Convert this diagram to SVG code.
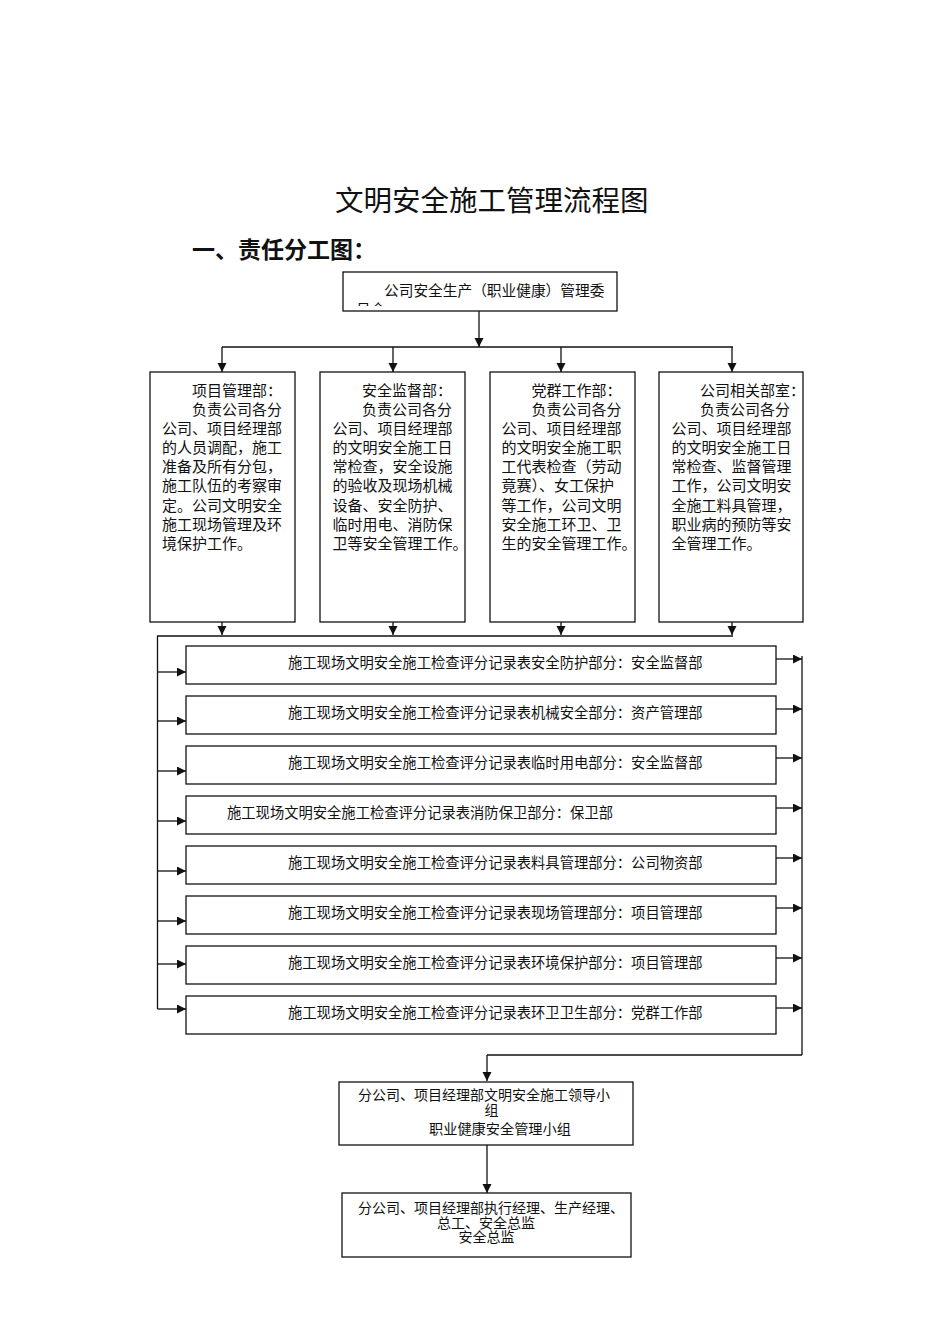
<svg xmlns="http://www.w3.org/2000/svg" width="950" height="1344" viewBox="0 0 950 1344">
<style>
.bx{fill:#fff;stroke:#111;stroke-width:1.3}
.ln{fill:none;stroke:#111;stroke-width:1.3}
.ar{fill:none;stroke:#111;stroke-width:1.3;marker-end:url(#ah)}
.t{font-family:"Noto Sans CJK SC","Liberation Sans",sans-serif;fill:#111}
.c{font-size:15px}
.r{font-size:14.3px}
.s{font-family:"Liberation Serif","Noto Sans CJK SC",serif;font-size:14px;fill:#111}
</style>
<defs>
<marker id="ah" markerUnits="userSpaceOnUse" markerWidth="10" markerHeight="10" refX="9" refY="4.5" orient="auto">
<path d="M0,0 L9,4.5 L0,9 z" fill="#111"/>
</marker>
<clipPath id="topclip"><rect x="343" y="272" width="275" height="34"/></clipPath>
</defs>
<rect width="950" height="1344" fill="#fff"/>
<text class="t" x="335" y="211" font-size="28.5">文明安全施工管理流程图</text>
<text class="t" x="192" y="258" font-size="23" font-weight="bold">一、责任分工图：</text>

<g id="connectors">
<line class="ar" x1="479" y1="311" x2="479" y2="347"/>
<line class="ln" x1="222" y1="347" x2="733" y2="347"/>
<line class="ar" x1="222" y1="347" x2="222" y2="372"/>
<line class="ar" x1="393" y1="347" x2="393" y2="372"/>
<line class="ar" x1="561" y1="347" x2="561" y2="372"/>
<line class="ar" x1="732" y1="347" x2="732" y2="372"/>
<line class="ar" x1="222" y1="622" x2="222" y2="635"/>
<line class="ar" x1="393" y1="622" x2="393" y2="635"/>
<line class="ar" x1="561" y1="622" x2="561" y2="635"/>
<line class="ar" x1="732" y1="622" x2="732" y2="635"/>
<line class="ln" x1="157" y1="636" x2="733" y2="636"/>
<line class="ln" x1="157.5" y1="636" x2="157.5" y2="1009"/>
<line class="ar" x1="157.5" y1="672" x2="186" y2="672"/>
<line class="ar" x1="157.5" y1="721" x2="186" y2="721"/>
<line class="ar" x1="157.5" y1="771" x2="186" y2="771"/>
<line class="ar" x1="157.5" y1="821" x2="186" y2="821"/>
<line class="ar" x1="157.5" y1="871" x2="186" y2="871"/>
<line class="ar" x1="157.5" y1="921" x2="186" y2="921"/>
<line class="ar" x1="157.5" y1="964" x2="186" y2="964"/>
<line class="ar" x1="157.5" y1="1009" x2="186" y2="1009"/>
<line class="ar" x1="776" y1="659" x2="802" y2="659"/>
<line class="ar" x1="776" y1="709" x2="802" y2="709"/>
<line class="ar" x1="776" y1="758" x2="802" y2="758"/>
<line class="ar" x1="776" y1="808" x2="802" y2="808"/>
<line class="ar" x1="776" y1="858" x2="802" y2="858"/>
<line class="ar" x1="776" y1="908" x2="802" y2="908"/>
<line class="ar" x1="776" y1="958" x2="802" y2="958"/>
<line class="ar" x1="776" y1="1008" x2="802" y2="1008"/>
<line class="ln" x1="802" y1="656" x2="802" y2="1055"/>
<line class="ln" x1="802" y1="1055" x2="487" y2="1055"/>
<line class="ar" x1="487" y1="1055" x2="487" y2="1081"/>
<line class="ar" x1="487" y1="1145" x2="487" y2="1193"/>
</g>

<g id="top">
<rect class="bx" x="343" y="272" width="274" height="39"/>
<g clip-path="url(#topclip)">
<text class="t" x="384" y="296" font-size="14.7">公司安全生产（职业健康）管理委</text>
<text class="t" x="356" y="315" font-size="14.7">员会</text>
</g>
</g>

<g id="col1">
<rect class="bx" x="150" y="372" width="145" height="250"/>
<text class="t c">
<tspan x="192" y="395.5">项目管理部：</tspan>
<tspan x="192" y="414.7">负责公司各分</tspan>
<tspan x="162" y="433.8">公司、项目经理部</tspan>
<tspan x="162" y="453">的人员调配，施工</tspan>
<tspan x="162" y="472.2">准备及所有分包，</tspan>
<tspan x="162" y="491.3">施工队伍的考察审</tspan>
<tspan x="162" y="510.5">定。公司文明安全</tspan>
<tspan x="162" y="529.7">施工现场管理及环</tspan>
<tspan x="162" y="548.8">境保护工作。</tspan>
</text>
</g>

<g id="col2">
<rect class="bx" x="320" y="372" width="145" height="250"/>
<text class="t c">
<tspan x="362" y="395.5">安全监督部：</tspan>
<tspan x="362" y="414.7">负责公司各分</tspan>
<tspan x="332.5" y="433.8">公司、项目经理部</tspan>
<tspan x="332.5" y="453">的文明安全施工日</tspan>
<tspan x="332.5" y="472.2">常检查，安全设施</tspan>
<tspan x="332.5" y="491.3">的验收及现场机械</tspan>
<tspan x="332.5" y="510.5">设备、安全防护、</tspan>
<tspan x="332.5" y="529.7">临时用电、消防保</tspan>
<tspan x="332.5" y="548.8">卫等安全管理工作。</tspan>
</text>
</g>

<g id="col3">
<rect class="bx" x="490" y="372" width="145" height="250"/>
<text class="t c">
<tspan x="531.5" y="395.5">党群工作部：</tspan>
<tspan x="531.5" y="414.7">负责公司各分</tspan>
<tspan x="501.5" y="433.8">公司、项目经理部</tspan>
<tspan x="501.5" y="453">的文明安全施工职</tspan>
<tspan x="501.5" y="472.2">工代表检查（劳动</tspan>
<tspan x="501.5" y="491.3">竟赛）、女工保护</tspan>
<tspan x="501.5" y="510.5">等工作，公司文明</tspan>
<tspan x="501.5" y="529.7">安全施工环卫、卫</tspan>
<tspan x="501.5" y="548.8">生的安全管理工作。</tspan>
</text>
</g>

<g id="col4">
<rect class="bx" x="659" y="372" width="144" height="250"/>
<text class="t c">
<tspan x="700" y="395.5">公司相关部室：</tspan>
<tspan x="700" y="414.7">负责公司各分</tspan>
<tspan x="671.5" y="433.8">公司、项目经理部</tspan>
<tspan x="671.5" y="453">的文明安全施工日</tspan>
<tspan x="671.5" y="472.2">常检查、监督管理</tspan>
<tspan x="671.5" y="491.3">工作，公司文明安</tspan>
<tspan x="671.5" y="510.5">全施工料具管理，</tspan>
<tspan x="671.5" y="529.7">职业病的预防等安</tspan>
<tspan x="671.5" y="548.8">全管理工作。</tspan>
</text>
</g>

<g id="row1"><rect class="bx" x="186" y="646" width="590" height="38"/><text class="t r" x="288" y="668">施工现场文明安全施工检查评分记录表安全防护部分：安全监督部</text></g>
<g id="row2"><rect class="bx" x="186" y="696" width="590" height="38"/><text class="t r" x="288" y="718">施工现场文明安全施工检查评分记录表机械安全部分：资产管理部</text></g>
<g id="row3"><rect class="bx" x="186" y="746" width="590" height="38"/><text class="t r" x="288" y="768">施工现场文明安全施工检查评分记录表临时用电部分：安全监督部</text></g>
<g id="row4"><rect class="bx" x="186" y="796" width="590" height="38"/><text class="t r" x="227" y="818">施工现场文明安全施工检查评分记录表消防保卫部分：保卫部</text></g>
<g id="row5"><rect class="bx" x="186" y="846" width="590" height="38"/><text class="t r" x="288" y="868">施工现场文明安全施工检查评分记录表料具管理部分：公司物资部</text></g>
<g id="row6"><rect class="bx" x="186" y="896" width="590" height="38"/><text class="t r" x="288" y="918">施工现场文明安全施工检查评分记录表现场管理部分：项目管理部</text></g>
<g id="row7"><rect class="bx" x="186" y="946" width="590" height="38"/><text class="t r" x="288" y="968">施工现场文明安全施工检查评分记录表环境保护部分：项目管理部</text></g>
<g id="row8"><rect class="bx" x="186" y="996" width="590" height="38"/><text class="t r" x="288" y="1018">施工现场文明安全施工检查评分记录表环卫卫生部分：党群工作部</text></g>

<g id="leader">
<rect class="bx" x="339" y="1082" width="294" height="63"/>
<text class="s" x="358" y="1100">分公司、项目经理部文明安全施工领导小</text>
<text class="s" x="491.5" y="1115" text-anchor="middle">组</text>
<text class="t" x="429" y="1133.5" font-size="14.2">职业健康安全管理小组</text>
</g>

<g id="exec">
<rect class="bx" x="342" y="1193" width="289" height="64"/>
<text class="s" x="358" y="1213">分公司、项目经理部执行经理、生产经理、</text>
<text class="s" x="486" y="1227.5" text-anchor="middle">总工、安全总监</text>
<text class="s" x="486.5" y="1242" text-anchor="middle">安全总监</text>
</g>
</svg>
